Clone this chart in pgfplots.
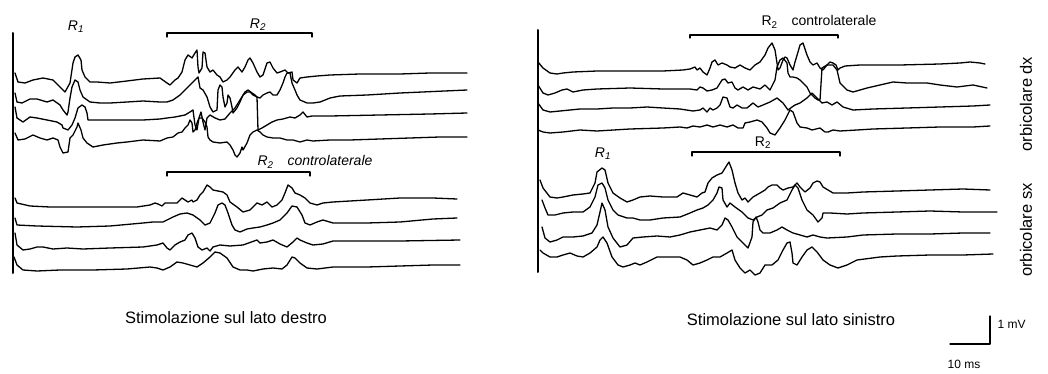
\documentclass[border=0pt]{standalone}
\usepackage{fontspec}
\setmainfont{Liberation Sans}
\usepackage{pgfplots}
\pgfplotsset{compat=1.18}
\begin{document}
\begin{tikzpicture}
\begin{axis}[
  scale only axis, width=1048pt, height=374pt,
  xmin=0, xmax=1048, ymin=0, ymax=374, y dir=reverse,
  hide axis, clip=false,
  cycle list={{black, solid, mark=none}},
  every axis plot/.append style={black, line width=1.3pt, line join=round, line cap=round, mark=none},
]
\path (axis cs:0,0) rectangle (axis cs:1048,374);
% ---------- left panel: axis line and brackets
\addplot[line width=2pt] coordinates {(13,33) (13,273)};
\addplot coordinates {(167,37) (167,33) (312,33) (312,37)};
\addplot coordinates {(167,176) (167,172) (310,172) (310,176)};
% ---------- left top traces
\addplot coordinates {(15,73) (18,82) (25,83) (33,80) (43,78) (53,80) (60,87) (65,92) (70,83) (73,63) (75,57) (78,55) (81,60) (82,70) (85,77) (90,82) (97,82) (110,83) (127,81) (143,79) (160,78) (167,83) (170,85) (175,80) (178,78) (182,72) (185,60) (188,55) (192,58) (195,53) (197,50) (198,67) (199,73) (202,68) (203,52) (205,53) (207,67) (210,72) (213,70) (217,75) (220,77) (223,82) (227,80) (230,77) (235,70) (238,67) (242,72) (245,67) (248,60) (250,58) (253,63) (257,72) (260,77) (263,75) (267,63) (270,62) (273,68) (277,73) (280,72) (285,70) (288,73) (292,72) (293,80) (297,83) (300,78) (307,77) (317,76) (330,75) (360,74) (400,74) (430,73) (467,73)};
\addplot coordinates {(15,93) (17,102) (22,103) (30,99) (37,99) (47,102) (53,100) (60,105) (63,110) (67,115) (68,112) (70,98) (72,87) (75,80) (78,82) (80,90) (83,97) (90,102) (100,103) (110,103) (127,102) (143,101) (160,102) (167,102) (173,100) (180,95) (187,88) (190,85) (195,80) (198,77) (200,88) (203,90) (207,97) (210,107) (213,112) (217,110) (218,90) (220,85) (222,87) (223,97) (225,107) (227,103) (228,95) (230,98) (232,107) (233,113) (237,108) (240,102) (243,95) (247,92) (250,92) (253,95) (257,97) (260,98) (263,95) (267,93) (270,92) (273,95) (277,95) (280,90) (283,83) (285,77) (287,73) (290,73) (292,83) (295,90) (297,95) (300,100) (307,103) (313,103) (320,102) (330,98) (340,96) (367,95) (400,93) (467,90)};
\addplot coordinates {(15,107) (17,118) (23,122) (30,117) (37,118) (47,120) (57,122) (62,125) (63,128) (68,130) (72,125) (75,118) (78,108) (82,105) (85,107) (87,113) (88,120) (97,120) (110,120) (127,120) (143,120) (160,119) (167,118) (175,117) (185,115) (190,112) (193,110) (195,125) (197,130) (199,118) (201,112) (203,122) (205,130) (207,118) (210,115) (215,118) (220,120) (225,119) (230,113) (235,108) (240,100) (245,92) (248,90) (252,93) (255,95) (257,97) (258,130) (262,128) (267,125) (272,122) (277,120) (283,119) (290,117) (295,118) (300,115) (303,112) (307,117) (312,116) (330,116) (380,115) (430,114) (467,113)};
\addplot coordinates {(15,133) (18,140) (25,139) (33,135) (40,138) (47,140) (53,138) (58,140) (60,147) (63,153) (68,152) (70,138) (73,135) (77,127) (78,123) (81,130) (83,138) (87,143) (93,147) (103,145) (117,143) (127,142) (143,140) (160,141) (167,138) (173,137) (178,133) (182,132) (185,128) (188,125) (190,120) (192,123) (193,132) (195,130) (197,123) (199,118) (202,118) (205,122) (207,127) (208,137) (210,140) (213,142) (220,143) (227,142) (230,145) (233,150) (235,155) (237,157) (240,153) (242,147) (243,150) (247,143) (250,135) (253,132) (257,130) (260,132) (263,135) (267,137) (273,138) (280,138) (287,140) (293,140) (300,142) (307,140) (313,141) (330,140) (350,140) (380,139) (410,138) (440,137) (467,137)};
% ---------- left bottom traces
\addplot coordinates {(15,198) (17,203) (30,206) (50,207) (77,207) (110,207) (137,207) (150,205) (155,203) (158,204) (162,206) (165,203) (170,203) (177,203) (182,198) (185,200) (188,202) (192,200) (193,202) (197,200) (200,195) (203,192) (207,185) (210,187) (213,190) (223,192) (227,195) (230,202) (237,207) (243,212) (250,210) (257,203) (262,205) (267,202) (272,207) (277,205) (282,200) (285,193) (288,185) (292,188) (295,193) (300,195) (305,198) (310,203) (317,205) (323,203) (333,202) (367,200) (400,198) (433,198) (457,199)};
\addplot coordinates {(15,218) (17,225) (37,226) (77,227) (110,226) (143,223) (153,222) (163,222) (173,217) (180,214) (187,213) (193,215) (200,220) (205,225) (210,223) (215,213) (218,205) (222,203) (225,205) (228,213) (232,225) (235,230) (240,232) (247,229) (253,228) (260,227) (267,225) (273,223) (280,220) (287,213) (292,206) (297,207) (302,215) (305,223) (310,225) (317,222) (323,220) (333,223) (367,223) (400,222) (433,219) (457,218)};
\addplot coordinates {(15,233) (17,245) (23,250) (30,249) (37,247) (43,247) (53,249) (67,248) (83,249) (110,248) (143,247) (157,245) (163,243) (167,248) (170,250) (175,245) (180,242) (185,240) (188,235) (192,233) (195,238) (198,247) (202,250) (207,248) (210,251) (213,247) (220,245) (230,246) (243,245) (257,240) (260,243) (267,242) (273,240) (280,244) (287,247) (293,242) (297,238) (300,240) (307,243) (313,245) (323,244) (333,241) (400,241) (460,240)};
\addplot coordinates {(14,257) (17,265) (23,270) (37,271) (60,270) (93,270) (127,269) (150,267) (157,268) (163,270) (170,267) (177,262) (183,263) (190,265) (197,267) (203,263) (210,257) (215,252) (220,253) (227,258) (233,267) (240,270) (247,270) (253,271) (263,269) (273,268) (282,269) (287,265) (292,257) (295,258) (300,263) (307,268) (317,269) (333,267) (367,267) (433,265) (460,265)};
% ---------- right panel: axis line and brackets
\addplot[line width=2pt] coordinates {(538,30) (538,272)};
\addplot coordinates {(690,38) (690,35) (838,35) (838,38)};
\addplot coordinates {(692,156) (692,152) (840,152) (840,156)};
% ---------- right top traces
\addplot coordinates {(538,62) (543,68) (550,73) (557,74) (563,73) (573,72) (597,71) (630,71) (663,71) (683,70) (690,69) (695,67) (697,70) (700,68) (703,72) (707,75) (710,68) (712,62) (715,60) (718,65) (722,63) (727,65) (730,67) (735,68) (740,65) (745,68) (750,70) (755,65) (760,62) (765,55) (768,48) (772,43) (775,50) (777,63) (778,70) (780,68) (783,60) (785,57) (787,58) (790,65) (793,70) (795,62) (798,52) (800,45) (803,43) (807,55) (810,62) (813,65) (817,63) (820,68) (823,70) (827,65) (830,62) (833,63) (836,65) (838,70) (840,68) (845,66) (860,65) (900,65) (940,64) (960,63) (970,62) (980,63) (985,64)};
\addplot coordinates {(538,85) (543,93) (548,95) (555,93) (562,90) (567,89) (573,92) (583,90) (597,89) (630,88) (663,89) (690,89) (697,90) (700,87) (703,88) (707,91) (712,90) (717,88) (722,80) (725,79) (728,83) (732,82) (735,88) (738,90) (743,87) (748,90) (753,87) (760,89) (765,85) (770,90) (775,80) (777,67) (780,60) (783,58) (787,63) (788,73) (790,77) (793,77) (797,78) (800,80) (803,83) (807,87) (810,93) (815,98) (818,100) (820,100) (822,68) (827,65) (833,65) (837,70) (840,83) (847,90) (853,92) (867,88) (880,85) (893,82) (907,83) (927,83) (940,85) (957,87) (973,85) (987,88)};
\addplot coordinates {(538,103) (543,110) (550,112) (560,111) (570,110) (580,109) (597,109) (613,108) (630,108) (647,107) (663,108) (680,109) (693,111) (700,110) (703,108) (707,112) (710,108) (713,110) (717,108) (720,105) (723,97) (727,98) (730,107) (733,108) (737,105) (742,108) (747,108) (753,103) (758,107) (763,105) (770,102) (777,98) (783,103) (788,110) (792,107) (795,105) (800,103) (807,98) (812,93) (817,98) (822,103) (827,102) (832,105) (837,102) (843,107) (853,110) (873,109) (907,108) (940,107) (973,106) (990,105)};
\addplot coordinates {(538,130) (543,132) (550,133) (563,132) (580,130) (597,131) (630,129) (663,128) (680,127) (687,128) (693,126) (700,127) (707,125) (713,127) (720,125) (727,127) (733,125) (738,128) (743,128) (745,123) (750,122) (757,120) (762,122) (767,128) (770,133) (775,135) (780,128) (785,120) (790,110) (793,112) (797,123) (800,127) (807,128) (812,130) (820,128) (825,132) (828,132) (833,130) (840,131) (857,130) (873,129) (907,128) (940,127) (973,127) (990,126)};
% ---------- right bottom traces
\addplot coordinates {(540,180) (543,188) (550,197) (557,198) (563,197) (573,195) (583,194) (590,193) (595,183) (597,172) (602,168) (605,170) (608,183) (613,193) (620,198) (627,202) (633,200) (640,197) (650,196) (663,197) (677,197) (683,193) (690,195) (697,197) (702,193) (705,192) (708,183) (712,178) (717,175) (722,173) (727,165) (729,162) (732,170) (735,183) (738,193) (742,200) (745,198) (748,202) (753,197) (760,193) (765,190) (768,187) (772,185) (777,185) (780,188) (783,190) (788,188) (793,187) (797,183) (800,187) (805,192) (810,188) (813,183) (817,181) (820,182) (823,187) (828,190) (833,193) (847,193) (863,192) (897,191) (930,190) (963,189) (990,190)};
\addplot coordinates {(542,200) (545,208) (548,215) (555,215) (563,213) (573,212) (583,212) (590,207) (595,197) (598,185) (602,183) (605,188) (608,200) (613,210) (618,215) (627,218) (633,218) (640,220) (650,220) (663,218) (680,217) (690,213) (697,210) (703,208) (708,205) (713,200) (717,193) (719,187) (722,188) (723,200) (727,207) (730,203) (735,207) (742,212) (748,218) (753,220) (757,217) (762,215) (767,210) (773,208) (780,203) (787,200) (792,190) (795,185) (798,188) (802,200) (807,210) (813,215) (818,222) (822,218) (823,213) (830,213) (847,214) (863,213) (897,212) (930,211) (963,212) (997,212)};
\addplot coordinates {(542,227) (545,238) (550,242) (557,240) (563,237) (573,237) (583,236) (592,233) (597,225) (600,212) (602,203) (605,210) (608,227) (613,238) (620,247) (627,245) (633,238) (643,237) (657,236) (670,237) (680,235) (690,232) (700,230) (710,228) (717,230) (722,225) (725,218) (728,220) (732,227) (737,237) (743,243) (748,248) (752,237) (753,222) (756,217) (758,222) (760,230) (763,233) (770,233) (777,230) (782,227) (787,230) (793,233) (800,235) (807,237) (813,235) (820,237) (827,238) (847,237) (863,235) (897,234) (930,234) (963,233) (990,233)};
\addplot coordinates {(540,250) (543,253) (550,257) (557,257) (563,255) (570,253) (577,256) (583,257) (590,253) (597,247) (600,240) (603,237) (607,243) (612,257) (618,265) (623,267) (630,265) (635,263) (640,265) (647,262) (657,257) (670,257) (680,257) (687,260) (693,265) (700,263) (707,260) (713,257) (720,257) (727,253) (732,250) (735,260) (740,268) (745,273) (750,270) (755,275) (760,273) (765,265) (772,265) (778,260) (783,250) (787,243) (790,242) (792,253) (793,263) (797,265) (802,257) (807,250) (812,247) (817,252) (823,260) (830,265) (838,268) (847,265) (857,260) (880,257) (897,256) (930,255) (963,255) (993,254)};
% ---------- scale bar
\addplot coordinates {(950,344) (990,344) (990,316)};
% ---------- texts
\node[font=\fontsize{14}{14}\selectfont\itshape] at (axis cs:76,27) {R\textsubscript{1}};
\node[font=\fontsize{14}{14}\selectfont\itshape] at (axis cs:258,25) {R\textsubscript{2}};
\node[font=\fontsize{14}{14}\selectfont\itshape, anchor=west] at (axis cs:254,162) {R\textsubscript{2}\quad controlaterale};
\node[font=\fontsize{14}{14}\selectfont, anchor=west] at (axis cs:758,22) {R\textsubscript{2}\quad controlaterale};
\node[font=\fontsize{14}{14}\selectfont\itshape] at (axis cs:603,154) {R\textsubscript{1}};
\node[font=\fontsize{14}{14}\selectfont] at (axis cs:763,143) {R\textsubscript{2}};
\node[font=\fontsize{16.5}{16.5}\selectfont, rotate=90] at (axis cs:1026,104) {orbicolare dx};
\node[font=\fontsize{16.5}{16.5}\selectfont, rotate=90] at (axis cs:1026,230) {orbicolare sx};
\node[font=\fontsize{16.5}{16.5}\selectfont] at (axis cs:226,318) {Stimolazione sul lato destro};
\node[font=\fontsize{16.5}{16.5}\selectfont] at (axis cs:791,320) {Stimolazione sul lato sinistro};
\node[font=\fontsize{12}{12}\selectfont, anchor=west] at (axis cs:994,324) {1 mV};
\node[font=\fontsize{12}{12}\selectfont] at (axis cs:964,364) {10 ms};
\end{axis}
\end{tikzpicture}
\end{document}
